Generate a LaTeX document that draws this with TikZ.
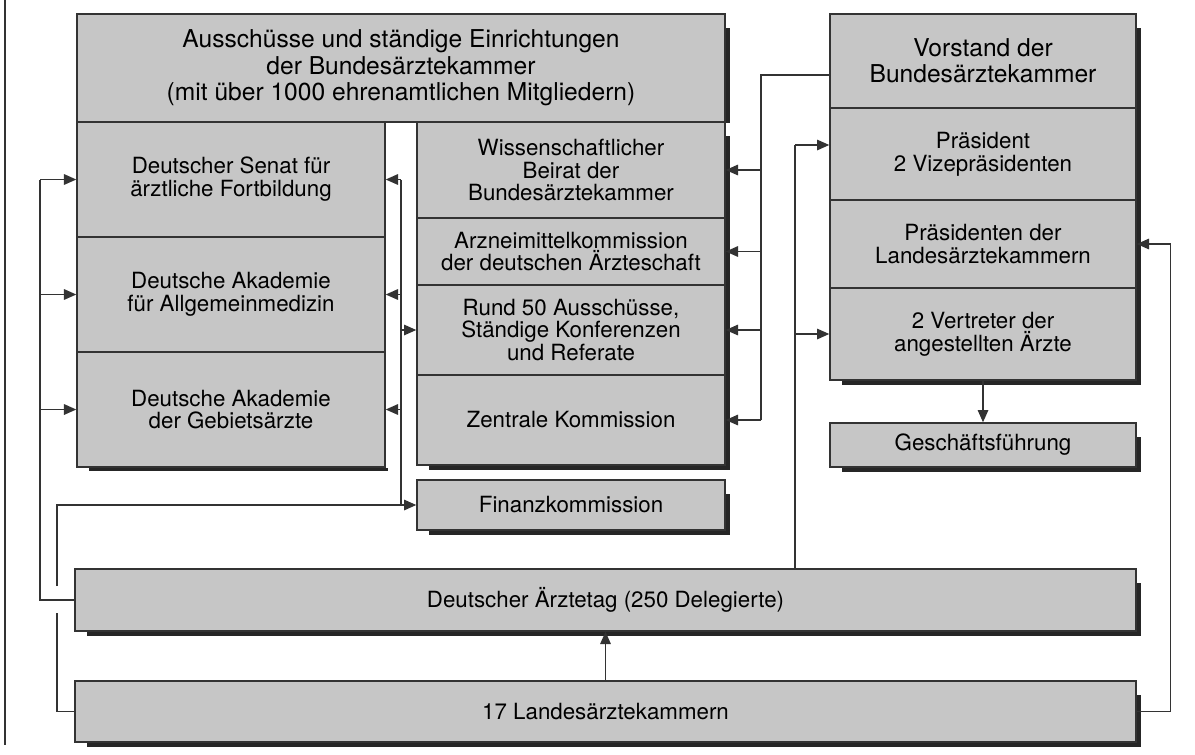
\documentclass[tikz,border=0pt]{standalone}
\usepackage{fontspec}
\setmainfont{TeX Gyre Heros}
\usetikzlibrary{arrows.meta,calc,backgrounds}

\definecolor{boxgray}{RGB}{198,198,198}
\tikzset{
    box/.style={draw=black!80, line width=0.8pt, fill=boxgray, inner sep=0pt, align=center, font=\fontsize{12.7}{13}\selectfont},
    headbox/.style={box, font=\fontsize{14}{15}\selectfont},
    cell/.style n args={4}{minimum width={(#3-#1)*0.02cm}, minimum height={(#4-#2)*0.02cm}, at={({(#1+#3)/2},{(#2+#4)/2})}},
    link/.style={black!80, line width=0.8pt},
    arr/.style={link, -{Triangle[length=7pt,width=6pt]}},
    shade/.style={fill=black!85},
}

\begin{document}
\begin{tikzpicture}[x=0.02cm, y=-0.02cm]
    \useasboundingbox (0,0) rectangle (1195,754);
    \draw[link] (5,0) -- (5,745);

    \node[headbox, cell={77}{14}{725}{122}] (aus) {Ausschüsse und ständige Einrichtungen\\der Bundesärztekammer\\(mit über 1000 ehrenamtlichen Mitgliedern)};
    \node[box, cell={77}{122}{385}{237}] (senat) {Deutscher Senat für\\ärztliche Fortbildung};
    \node[box, cell={77}{237}{385}{352}] (allg) {Deutsche Akademie\\für Allgemeinmedizin};
    \node[box, cell={77}{352}{385}{467}] (gebiet) {Deutsche Akademie\\der Gebietsärzte};
    \node[box, cell={417}{122}{725}{218}] (wiss) {Wissenschaftlicher\\Beirat der\\Bundesärztekammer};
    \node[box, cell={417}{218}{725}{285}] (arznei) {Arzneimittelkommission\\der deutschen Ärzteschaft};
    \node[box, cell={417}{285}{725}{375}] (rund) {Rund 50 Ausschüsse,\\Ständige Konferenzen\\und Referate};
    \node[box, cell={417}{375}{725}{465}] (zentral) {Zentrale Kommission};
    \node[box, cell={417}{480}{725}{530}] (finanz) {Finanzkommission};

    \node[headbox, cell={830}{14}{1136}{108}] (vorstand) {Vorstand der\\Bundesärztekammer};
    \node[box, cell={830}{108}{1136}{200}] (praes) {Präsident\\2 Vizepräsidenten};
    \node[box, cell={830}{200}{1136}{288}] (lpraes) {Präsidenten der\\Landesärztekammern};
    \node[box, cell={830}{288}{1136}{380}] (vertr) {2 Vertreter der\\angestellten Ärzte};
    \node[box, cell={830}{423}{1136}{467}] (gf) {Geschäftsführung};

    \node[box, cell={75}{569}{1136}{631}] (tag) {Deutscher Ärztetag (250 Delegierte)};
    \node[box, cell={75}{681}{1136}{742}] (laek) {17 Landesärztekammern};

    \begin{scope}[on background layer]
        \fill[shade] (aus.south east) rectangle ($(aus.north east)+(4,15)$);
        \fill[shade] ($(senat.west |- gebiet.south)+(13,0)$) rectangle ($(gebiet.south east)+(2,3)$);
        \foreach \a/\b in {wiss/zentral, finanz/finanz, vorstand/vertr, gf/gf, tag/tag, laek/laek}
            \fill[shade] ($(\a.west |- \b.south)+(13,4)$) rectangle ($(\b.east |- \a.north)+(4,15)$);
    \end{scope}

    \coordinate (bv) at (761,0);
    \draw[link] ([yshift=-0.28cm]vorstand.west) -| (bv |- zentral.east);
    \foreach \n in {wiss,arznei,rund,zentral}
        \draw[arr] (bv |- \n.east) -- (\n.east);

    \coordinate (bt) at (795,0);
    \coordinate (pin) at ([yshift=0.18cm]praes.west);
    \draw[link] (bt |- tag.north) -- (bt |- pin);
    \draw[arr] (bt |- pin) -- (pin);
    \draw[arr] (bt |- vertr.west) -- (vertr.west);

    \draw[arr] (vertr.south) -- (gf.north);
    \draw[arr] (laek.north) -- (tag.south);
    \draw[arr] (laek.east) -- ++(34,0) |- (lpraes.east);

    \coordinate (bl) at (40,0);
    \draw[link] (tag.west) -| (bl |- senat.west);
    \foreach \n in {senat,allg,gebiet}
        \draw[arr] (bl |- \n.west) -- (\n.west);

    \coordinate (gaplo) at (57,613);
    \coordinate (gaphi) at (57,586);
    \draw[link] (laek.west) -| (gaplo);
    \draw[arr] (gaphi) |- (finanz.west);
    \coordinate (bm) at (401,0);
    \draw[link] (bm |- finanz.west) -- (bm |- senat.east);
    \foreach \n in {senat,allg,gebiet}
        \draw[arr] (bm |- \n.east) -- (\n.east);
    \draw[arr] (bm |- rund.west) -- (rund.west);
\end{tikzpicture}
\end{document}
